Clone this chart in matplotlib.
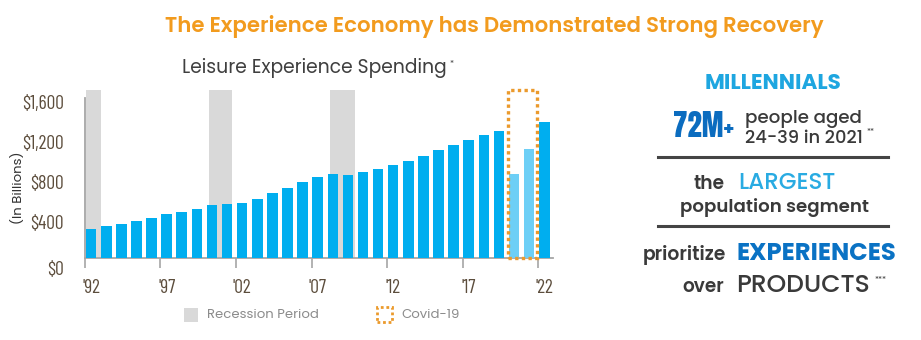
import matplotlib
matplotlib.use("Agg")
import matplotlib.pyplot as plt
from matplotlib.patches import Rectangle
from matplotlib.transforms import ScaledTranslation

# Leisure experience spending, $ billions
years = list(range(1992, 2023))
spending = [285, 312, 340, 370, 400, 434, 457, 487, 527, 534,
            550, 590, 644, 697, 754, 807, 837, 827, 857, 884,
            927, 967, 1014, 1074, 1124, 1177, 1227, 1270, 834, 1087,
            1354]
covid_years = [2020, 2021]
recessions = [(1991.65, 1992.65), (1999.8, 2001.32), (2007.81, 2009.47)]
covid_span = (2019.62, 2021.54)
y_ticks = [0, 400, 800, 1200, 1600]
y_labels = ["$0", "$400", "$800", "$1,200", "$1,600"]
x_label_years = [1992, 1997, 2002, 2007, 2012, 2017, 2022]
x_labels = ["'92", "'97", "'02", "'07", "'12", "'17", "'22"]

BLUE = "#00aeef"
LIGHT_BLUE = "#6dcff6"
GRAY_BAND = "#d9d9d9"
ORANGE = "#eb9a2c"
TICK_TXT = "#5c4d3c"
DARK = "#3a3a3a"
SANS = "Poppins"

W, H = 921, 340
fig = plt.figure(figsize=(W / 100, H / 100), dpi=100)


def fx(x):
    return x / W


def fy(y):
    return 1 - y / H


# main chart axes (pixel geometry)
ax = fig.add_axes([fx(84.5), fy(257.7), (552.7 - 84.5) / W, (257.7 - 90) / H])
ax.set_xlim(1991.56, 2022.56)
ax.set_ylim(0, 1677)

colors = [LIGHT_BLUE if y in covid_years else BLUE for y in years]
ax.bar(years, spending, width=0.7, color=colors, zorder=3)

for x0, x1 in recessions:
    ax.axvspan(x0, x1, color=GRAY_BAND, zorder=1, lw=0)

ax.add_patch(Rectangle((covid_span[0], 0), covid_span[1] - covid_span[0], 1677,
                       fill=False, ec=ORANGE, lw=2.4, ls=(0, (1, 1)), zorder=4, clip_on=False))

for s in ["top", "right"]:
    ax.spines[s].set_visible(False)
ax.spines["left"].set_bounds(0, 1600)
for s in ["left", "bottom"]:
    ax.spines[s].set_color("#a6a6a6")
    ax.spines[s].set_linewidth(1.3)

tick_font = dict(family="Barlow Condensed", size=14, color=TICK_TXT)
ax.set_yticks(y_ticks)
ax.set_yticklabels(y_labels, **tick_font)
ax.tick_params(axis="y", length=0, pad=15)
for i, lab in enumerate(ax.get_yticklabels()):
    dy = 0.10 if i == 0 else 0.04
    lab.set_transform(lab.get_transform() + ScaledTranslation(0, -dy, fig.dpi_scale_trans))

ax.set_xticks([y - 0.41 for y in x_label_years])
ax.set_xticklabels([""] * len(x_label_years))
ax.tick_params(axis="x", which="major", length=7, width=1.2, color="#a6a6a6", direction="out")
ax.set_xticks(x_label_years, minor=True)
ax.set_xticklabels(x_labels, minor=True, **tick_font)
ax.tick_params(axis="x", which="minor", length=0, pad=15)

fig.text(fx(18), fy(188), "(In Billions)", rotation=90, ha="center", va="center",
         family=SANS, size=9.5, color="#333333")

# titles
fig.text(fx(494), fy(32), "The Experience Economy has Demonstrated Strong Recovery",
         ha="center", va="baseline", family=SANS, weight="semibold", size=15.3, color="#f29b1e")
fig.text(fx(314), fy(73), "Leisure Experience Spending", ha="center", va="baseline",
         family=SANS, size=13.5, color="#3f3f3f")
fig.text(fx(449), fy(67), "*", ha="left", va="baseline", family=SANS, size=6, color="#3f3f3f")

# bottom legend
fig.patches.append(Rectangle((fx(184), fy(322)), 14 / W, 14 / H, transform=fig.transFigure,
                             color=GRAY_BAND, lw=0))
fig.patches.append(Rectangle((fx(377), fy(322)), 15 / W, 15 / H, transform=fig.transFigure,
                             fill=False, ec=ORANGE, lw=2, ls=(0, (1, 1))))
fig.text(fx(207), fy(315), "Recession Period", ha="left", va="center",
         family=SANS, size=9.5, color="#8c8c8c")
fig.text(fx(401), fy(315), "Covid-19", ha="left", va="center",
         family=SANS, size=9.5, color="#8c8c8c")

# right-hand panel
txt = dict(family=SANS, va="baseline")
fig.text(fx(773), fy(89), "MILLENNIALS", ha="center", weight="bold", size=15.5, color="#1ea6e0", **txt)
fig.text(fx(734), fy(137), "72M+", ha="right", va="baseline", family="Anton",
         size=21, color="#0b6cbf")
fig.text(fx(745), fy(123), "people aged", ha="left", weight="medium", size=13.2, color=DARK, **txt)
fig.text(fx(745), fy(143), "24-39 in 2021", ha="left", weight="medium", size=12.8, color=DARK, **txt)
fig.text(fx(866), fy(135), "**", ha="left", size=6, color=DARK, **txt)

fig.add_artist(plt.Line2D([fx(658), fx(888)], [fy(157), fy(157)], color="#444444", lw=2.2))
fig.add_artist(plt.Line2D([fx(658), fx(888)], [fy(226), fy(226)], color="#444444", lw=2.2))

fig.text(fx(724), fy(189), "the", ha="right", weight="semibold", size=13.4, color=DARK, **txt)
fig.text(fx(738), fy(189), "LARGEST", ha="left", weight="medium", size=16.5, color="#29abe2", **txt)
fig.text(fx(774), fy(212), "population segment", ha="center", weight="semibold", size=13.1,
         color=DARK, **txt)

fig.text(fx(726), fy(260), "prioritize", ha="right", weight="semibold", size=13.5, color=DARK, **txt)
fig.text(fx(736), fy(260), "EXPERIENCES", ha="left", weight="bold", size=17.5, color="#0a72c4", **txt)
fig.text(fx(724), fy(292), "over", ha="right", weight="semibold", size=13.3, color=DARK, **txt)
fig.text(fx(736), fy(292), "PRODUCTS", ha="left", weight="medium", size=18, color=DARK, **txt)
fig.text(fx(874), fy(283), "***", ha="left", size=6, color=DARK, **txt)

fig.savefig("out.png", dpi=100)
